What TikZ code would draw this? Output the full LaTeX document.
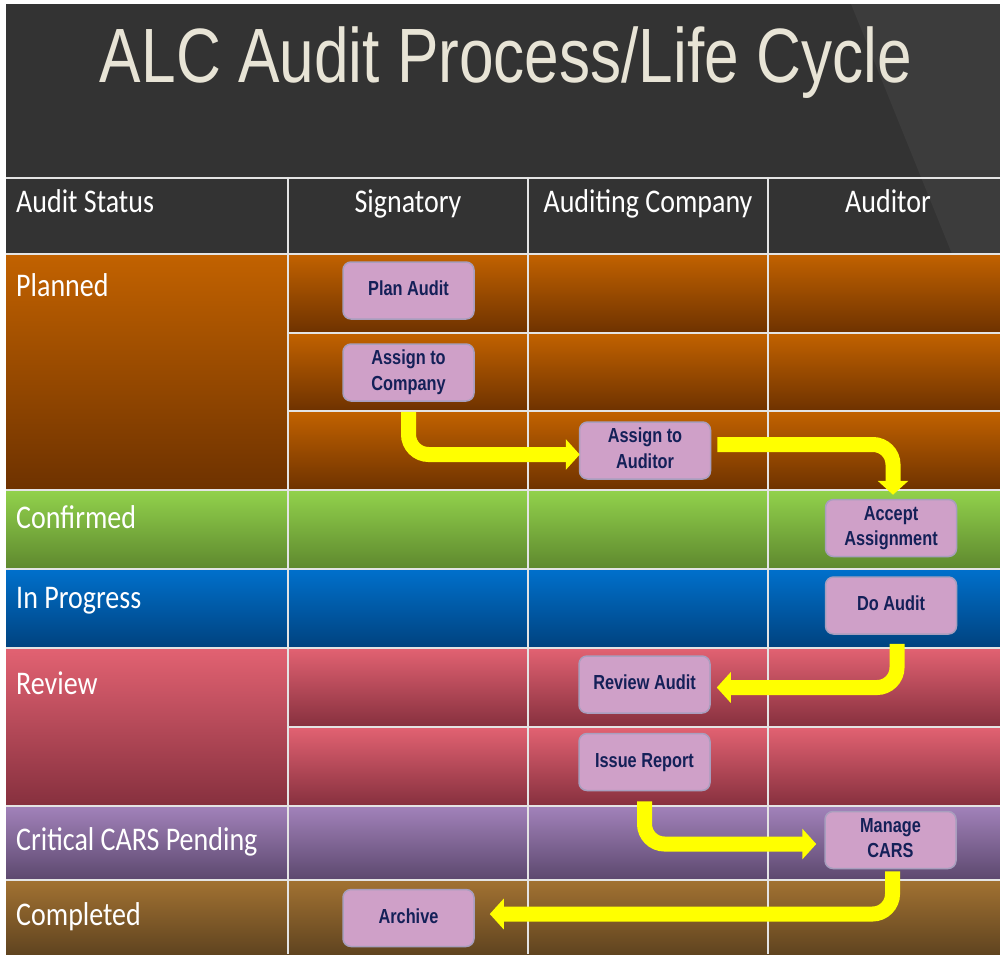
\documentclass[tikz,border=0pt]{standalone}
\usepackage{fontspec}
\usetikzlibrary{arrows.meta,calc}
\newfontfamily\hdfont{Carlito}
\newfontfamily\bxfont{Liberation Sans}
\newfontfamily\ttlfont{Liberation Sans}
\definecolor{bgdark}{RGB}{51,51,51}
\definecolor{bglight}{RGB}{60,60,60}
\definecolor{titlecol}{RGB}{232,228,214}
\definecolor{gridcol}{RGB}{228,228,228}
\definecolor{plT}{RGB}{194,98,0}
\definecolor{plB}{RGB}{110,50,0}
\definecolor{cfT}{RGB}{146,210,76}
\definecolor{cfB}{RGB}{94,136,46}
\definecolor{ipT}{RGB}{0,112,204}
\definecolor{ipB}{RGB}{0,66,126}
\definecolor{rvT}{RGB}{226,98,114}
\definecolor{rvB}{RGB}{134,48,62}
\definecolor{crT}{RGB}{162,130,186}
\definecolor{crB}{RGB}{92,72,110}
\definecolor{cpT}{RGB}{162,114,50}
\definecolor{cpB}{RGB}{96,68,32}
\definecolor{boxfill}{RGB}{207,160,200}
\definecolor{boxline}{RGB}{168,158,190}
\definecolor{boxtext}{RGB}{20,32,88}
\definecolor{arrowyellow}{RGB}{255,255,0}
\newcommand\hd[1]{\scalebox{1}[1.18]{\fontsize{28pt}{30pt}\selectfont\hdfont #1}}
\newcommand\bt[1]{\raisebox{-2pt}{\scalebox{1.02}[1.27]{\fontsize{16pt}{20pt}\selectfont\bxfont\bfseries\begin{tabular}{@{}c@{}}#1\end{tabular}}}}
\tikzset{
  gridline/.style={draw=gridcol, line width=2pt},
  hdlabel/.style={text=white, inner sep=0pt},
  stepbox/.style={rectangle, rounded corners=8pt, fill=boxfill, draw=boxline, line width=1.5pt,
    minimum width=131pt, minimum height=57pt, inner sep=0pt, text=boxtext},
  arr/.style={draw=arrowyellow, line width=15pt, rounded corners=20pt,
    -{Triangle[length=14pt,width=30pt]}}
}
\begin{document}
\begin{tikzpicture}[x=1pt,y=-1pt]
\useasboundingbox (0,0) rectangle (1000,954);
\fill[white] (0,0) rectangle (1000,954);
% title area
\fill[bgdark] (6,4) rectangle (1000,254);
\fill[bglight] (851,4) -- (952,254) -- (1000,254) -- (1000,4) -- cycle;
\node[anchor=base, text=titlecol, inner sep=0pt] (title) at (506,82)
  {\resizebox{812pt}{\height}{\fontsize{77pt}{80pt}\selectfont\ttlfont ALC Audit Process/Life Cycle}};
% rows
\shade[top color=plT, bottom color=plB] (6,254) rectangle (288,490);
\shade[top color=plT, bottom color=plB] (288,254) rectangle (1000,333);
\shade[top color=plT, bottom color=plB] (288,333) rectangle (1000,411);
\shade[top color=plT, bottom color=plB] (288,411) rectangle (1000,490);
\shade[top color=cfT, bottom color=cfB] (6,490) rectangle (1000,569);
\shade[top color=ipT, bottom color=ipB] (6,569) rectangle (1000,648);
\shade[top color=rvT, bottom color=rvB] (6,648) rectangle (288,806);
\shade[top color=rvT, bottom color=rvB] (288,648) rectangle (1000,727);
\shade[top color=rvT, bottom color=rvB] (288,727) rectangle (1000,806);
\shade[top color=crT, bottom color=crB] (6,806) rectangle (1000,880);
\shade[top color=cpT, bottom color=cpB] (6,880) rectangle (1000,954);
% grid lines
\foreach \yy in {178,254,490,569,648,806,880} \draw[gridline] (6,\yy) -- (1000,\yy);
\foreach \yy in {333,411,727} \draw[gridline] (288,\yy) -- (1000,\yy);
\foreach \xx in {288,528,768} \draw[gridline] (\xx,178) -- (\xx,954);
% header labels
\node[hdlabel, anchor=base west] (hstatus) at (16,212) {\hd{Audit Status}};
\node[hdlabel, anchor=base] (hsig) at (408,212) {\hd{Signatory}};
\node[hdlabel, anchor=base] (hcomp) at (648,212) {\hd{Auditing Company}};
\node[hdlabel, anchor=base] (haud) at (888,212) {\hd{Auditor}};
% status labels
\node[hdlabel, anchor=base west] (splanned) at (16,296) {\hd{Planned}};
\node[hdlabel, anchor=base west] (sconf) at (16,528) {\hd{Confirmed}};
\node[hdlabel, anchor=base west] (sprog) at (16,608) {\hd{In Progress}};
\node[hdlabel, anchor=base west] (sreview) at (16,694) {\hd{Review}};
\node[hdlabel, anchor=base west] (scrit) at (16,850) {\hd{Critical CARS Pending}};
\node[hdlabel, anchor=base west] (scomp) at (16,925) {\hd{Completed}};
% boxes
\node[stepbox] (plan) at (408.5,290.5) {\bt{Plan Audit}};
\node[stepbox] (acomp) at (408.5,372.5) {\bt{Assign to\\Company}};
\node[stepbox] (aaud) at (645,450.5) {\bt{Assign to\\Auditor}};
\node[stepbox] (accept) at (891,528) {\bt{Accept\\Assignment}};
\node[stepbox] (doaudit) at (891,605.5) {\bt{Do Audit}};
\node[stepbox] (review) at (644.5,684.5) {\bt{Review Audit}};
\node[stepbox] (issue) at (644.5,762) {\bt{Issue Report}};
\node[stepbox] (manage) at (890.5,840) {\bt{Manage\\CARS}};
\node[stepbox] (archive) at (408.5,918) {\bt{Archive}};
% arrows
\draw[arr] ($(acomp.south)+(0,10)$) |- ($(aaud.west)+(1,4)$);
\draw[arr] ($(aaud.east)+(6,-6)$) -| ($(accept.north)+(2,-4)$);
\draw[arr] ($(doaudit.south)+(6,9)$) |- ($(review.east)+(6,3)$);
\draw[arr] ($(issue.south)+(0,10)$) |- ($(manage.west)+(-8,4)$);
\draw[arr] ($(manage.south)+(2,2)$) |- ($(archive.east)+(15,-4)$);
\end{tikzpicture}
\end{document}
